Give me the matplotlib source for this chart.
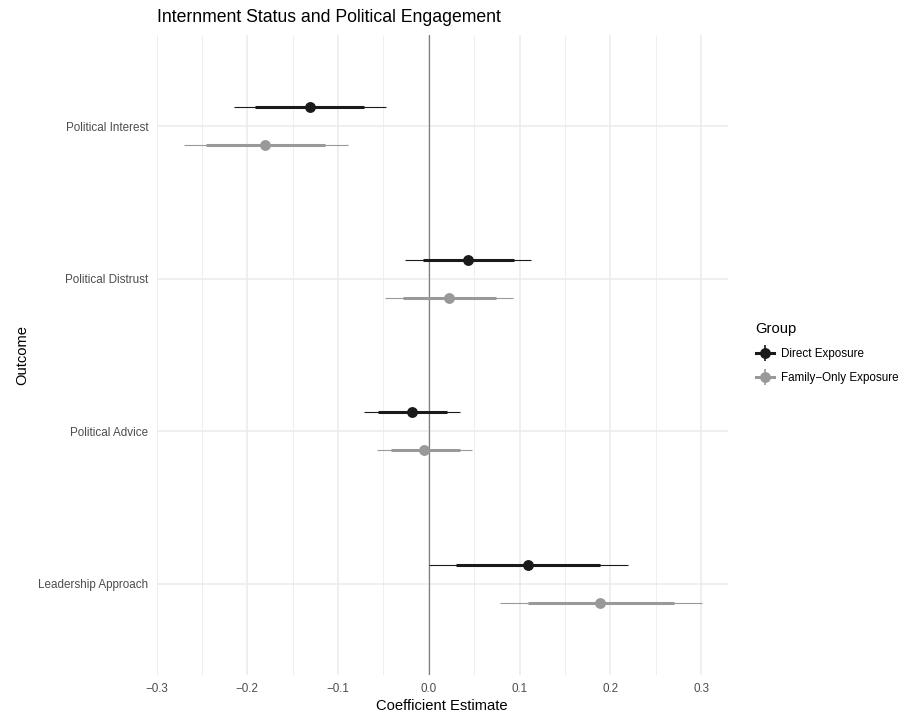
import matplotlib
matplotlib.use('Agg')
import matplotlib.pyplot as plt
import numpy as np
from matplotlib.lines import Line2D
from matplotlib.legend_handler import HandlerTuple
from matplotlib.ticker import MultipleLocator

plt.rcParams['font.family'] = ['Liberation Sans', 'DejaVu Sans']

# outcomes, listed top to bottom
outcomes = ["Political Interest", "Political Distrust", "Political Advice", "Leadership Approach"]

# Direct Exposure: estimate, inner (thick) interval, outer (thin) interval
direct_est = [-0.131, 0.043, -0.019, 0.109]
direct_lo1 = [-0.191, -0.006, -0.056, 0.030]
direct_hi1 = [-0.071, 0.094, 0.020, 0.189]
direct_lo2 = [-0.215, -0.026, -0.071, 0.000]
direct_hi2 = [-0.047, 0.113, 0.034, 0.219]

# Family-Only Exposure
family_est = [-0.180, 0.022, -0.005, 0.189]
family_lo1 = [-0.245, -0.028, -0.042, 0.109]
family_hi1 = [-0.114, 0.074, 0.034, 0.270]
family_lo2 = [-0.270, -0.048, -0.057, 0.078]
family_hi2 = [-0.089, 0.093, 0.048, 0.301]

groups = ["Direct Exposure", "Family\u2212Only Exposure"]
colors = ["#1a1a1a", "#999999"]

W, H = 910, 715
fig = plt.figure(figsize=(W / 100, H / 100), dpi=100)
ax = fig.add_axes([156.5 / W, 40 / H, (728 - 156.5) / W, 640 / H])

n = len(outcomes)
ypos = np.arange(n, 0, -1)  # top outcome gets the highest position
dodge = 0.125

series = [
    (direct_est, direct_lo1, direct_hi1, direct_lo2, direct_hi2, +dodge),
    (family_est, family_lo1, family_hi1, family_lo2, family_hi2, -dodge),
]

ax.axvline(0, color="#808080", lw=0.9, zorder=2)

for (est, lo1, hi1, lo2, hi2, off), col in zip(series, colors):
    y = ypos + off
    ax.hlines(y, lo2, hi2, color=col, lw=0.8, zorder=3)
    ax.hlines(y, lo1, hi1, color=col, lw=2.2, zorder=4)
    ax.plot(est, y, 'o', color=col, markersize=6.8, zorder=5)

# theme_minimal style panel
ax.set_xlim(-0.2986, 0.3296)
ax.set_ylim(0.4, n + 0.6)
ax.xaxis.set_major_locator(MultipleLocator(0.1))
ax.xaxis.set_minor_locator(MultipleLocator(0.05))
ax.set_xticks(np.arange(-0.3, 0.31, 0.1))
ax.set_xticklabels([f"{v:.1f}".replace("-", "\u2212") for v in np.arange(-0.3, 0.31, 0.1)])
ax.set_yticks(ypos)
ax.set_yticklabels(outcomes)
ax.grid(True, which='major', color='#ebebeb', lw=1.1, zorder=0)
ax.grid(True, which='minor', axis='x', color='#ebebeb', lw=0.55, zorder=0)
ax.set_axisbelow(True)
for s in ax.spines.values():
    s.set_visible(False)
ax.tick_params(which='both', length=0, labelsize=8.4, labelcolor='#4d4d4d', pad=6)

ax.set_xlabel("Coefficient Estimate", fontsize=10.6, labelpad=3)
ax.set_ylabel("Outcome", fontsize=10.6, labelpad=6)
fig.text(157 / W, 1 - 17 / H, "Internment Status and Political Engagement",
         fontsize=12.7, ha='left', va='center')

# legend: range line overlaid with a vertical tick and point
handles = []
for col in colors:
    h_line = Line2D([], [], color=col, lw=2.2, marker='o', markersize=6.8)
    v_line = Line2D([], [], color=col, lw=0, marker='|', markersize=12, markeredgewidth=1.2)
    handles.append((h_line, v_line))
leg = fig.legend(handles, groups, handler_map={tuple: HandlerTuple(ndivide=1)},
                 title="Group", loc='upper left', bbox_to_anchor=(745 / W, 1 - 312 / H),
                 frameon=False, fontsize=8.4, title_fontsize=10.6,
                 handlelength=1.6, handletextpad=0.6, labelspacing=1.0, alignment='left')

fig.savefig("out.png", dpi=100, facecolor='white')
